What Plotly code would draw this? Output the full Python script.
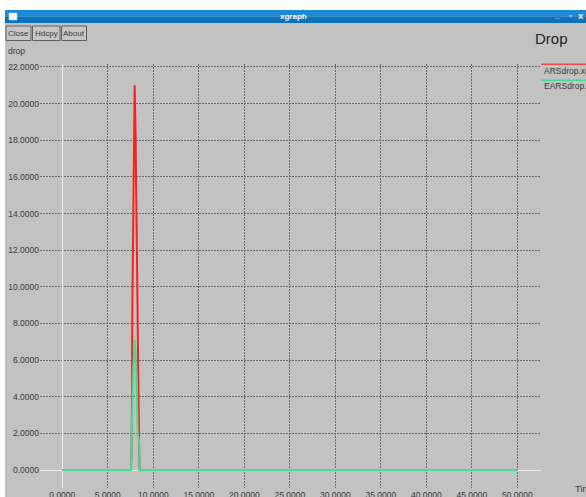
import plotly.graph_objects as go

# ---- data ----
ars_t = [0.0, 7.55, 7.6, 7.65, 7.7, 7.8, 7.95, 8.05, 8.1, 8.2, 8.25, 8.3, 8.35, 8.4, 8.45, 8.5, 50.0]
ars_v = [0.0, 0.0, 1.0, 3.0, 9.0, 15.0, 21.0, 18.4, 15.8, 13.1, 10.5, 8.0, 5.3, 2.6, 0.9, 0.0, 0.0]
ears_t = [0.0, 7.55, 7.6, 7.65, 7.75, 7.95, 8.05, 8.15, 8.3, 8.45, 8.5, 50.0]
ears_v = [0.0, 0.0, 1.0, 3.0, 5.0, 7.1, 6.5, 5.0, 2.0, 1.5, 0.0, 0.0]
x_ticks = [0, 5, 10, 15, 20, 25, 30, 35, 40, 45, 50]
y_ticks = [0, 2, 4, 6, 8, 10, 12, 14, 16, 18, 20, 22]
series_names = ["ARSdrop.xg", "EARSdrop.xg"]

W, H = 586, 497
L, R, T, B = 40, 541, 64, 488
BG = "#c2c2c2"
FONT = "Liberation Sans, Arial, sans-serif"
TXT = "#3a3a3a"


def px(x):
    return (x - L) / (R - L)


def py(y):
    return (B - y) / (B - T)


fig = go.Figure()
fig.add_trace(go.Scatter(x=ars_t, y=ars_v, mode="lines", name=series_names[0],
                         line=dict(color="#f42222", width=2), showlegend=False))
fig.add_trace(go.Scatter(x=ears_t, y=ears_v, mode="lines", name=series_names[1],
                         line=dict(color="#46dc8e", width=2), showlegend=False))

shapes = []
annots = []


def rect(x0, y0, x1, y1, fill, line=None, lw=0):
    shapes.append(dict(type="rect", xref="paper", yref="paper",
                       x0=px(x0), x1=px(x1), y0=py(y1), y1=py(y0),
                       fillcolor=fill, line=dict(color=line or fill, width=lw),
                       layer="above"))


def hline(x0, x1, y, color, w=1):
    shapes.append(dict(type="line", xref="paper", yref="paper",
                       x0=px(x0), x1=px(x1), y0=py(y), y1=py(y),
                       line=dict(color=color, width=w), layer="above"))


def text(s, x, y, size=9, color=TXT, xanchor="left", bold=False, family=FONT):
    annots.append(dict(text=("<b>%s</b>" % s) if bold else s, xref="paper", yref="paper",
                       x=px(x), y=py(y), xanchor=xanchor, yanchor="middle",
                       showarrow=False, font=dict(size=size, color=color, family=family)))


# window frame: white margins
rect(0, 0, W, 10, "#ffffff")
rect(0, 0, 5, H, "#ffffff")
# title bar
rect(5, 10, W, 16.5, "#1d88d4")
rect(5, 16.5, W, 23, "#0a72c0")
rect(9, 13, 17, 20, "#f4f4f4", "#dddddd", 0.5)
text("xgraph", 293, 16.5, size=8, color="#ffffff", xanchor="center", bold=True)
text("_", 557, 15.5, size=8, color="#ffffff", xanchor="center", bold=True)
text("▫", 570, 16.5, size=9, color="#ffffff", xanchor="center")
text("X", 581, 16.5, size=8, color="#ffffff", xanchor="center", bold=True)

# buttons
for lab, x0, x1 in [("Close", 6, 31), ("Hdcpy", 32.5, 60), ("About", 61.5, 86.5)]:
    rect(x0, 26, x1, 40.5, "#c6c6c6", "#5e5e5e", 1)
    text(lab, (x0 + x1) / 2, 33.5, size=8, xanchor="center")

text("drop", 6, 51.5, size=8.5)
text("Drop", 533, 38.5, size=15, color="#222222")
text("Time", 573, 488, size=9.5)

# legend
hline(541, W, 64.3, "#f04848", 1.5)
text(series_names[0], 542, 70.5, size=8.5)
hline(541, W, 80.3, "#46dc8e", 1.5)
text(series_names[1], 542, 86, size=8.5)

grid = dict(showgrid=True, gridcolor="#6a6a6a", gridwidth=1, griddash="2px,1px",
            zeroline=True, zerolinecolor="#ececec", zerolinewidth=1,
            showline=False, ticks="", tickformat=".4f", automargin=False,
            tickfont=dict(size=8.5, color=TXT, family=FONT))

fig.update_layout(
    width=W, height=H,
    margin=dict(l=L, r=W - R, t=T, b=H - B, pad=0),
    paper_bgcolor=BG, plot_bgcolor=BG,
    showlegend=False, hovermode=False,
    shapes=shapes, annotations=annots,
    xaxis=dict(range=[-2.45, 52.6], tickvals=x_ticks, **grid),
    yaxis=dict(range=[-0.98, 22.16], tickvals=y_ticks, ticklabelstandoff=0, **grid),
)

fig.write_html("out.html", config={"displayModeBar": False, "staticPlot": True},
               post_script="document.body.style.margin='0px';document.body.style.overflow='hidden';")
